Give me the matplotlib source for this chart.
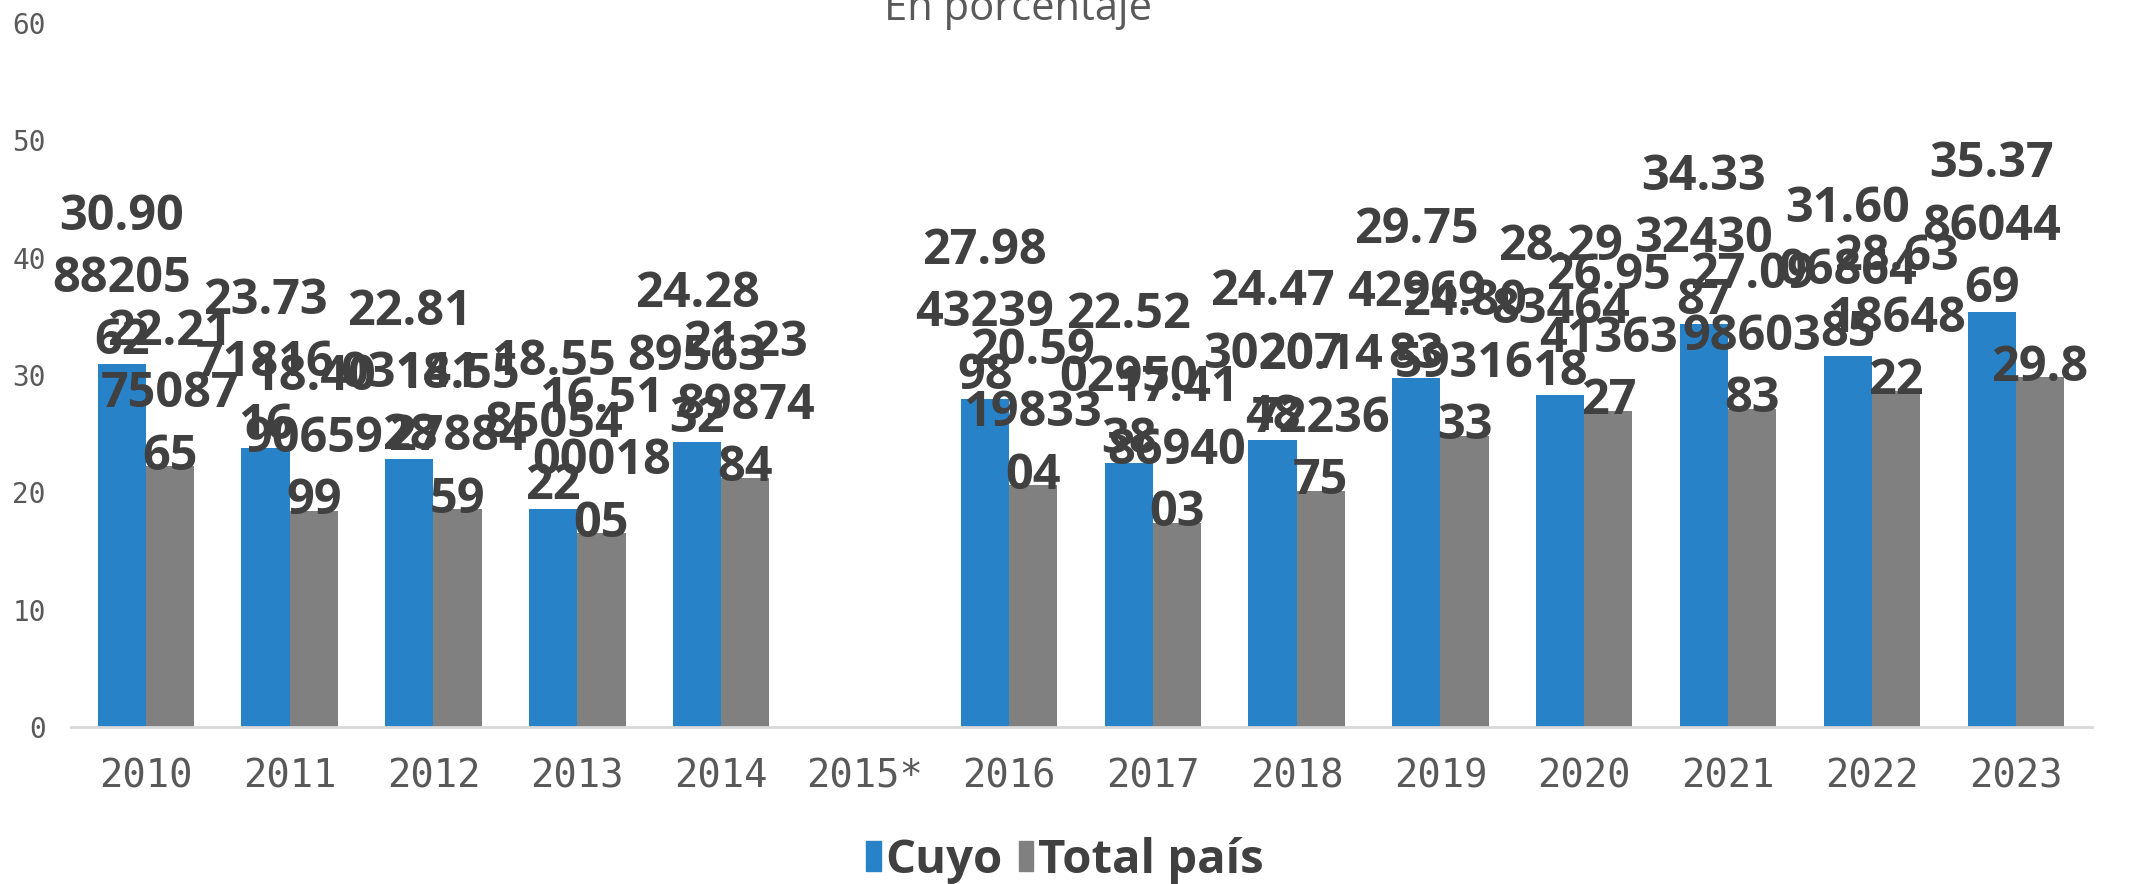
import numpy as np
import matplotlib
matplotlib.use("Agg")
import matplotlib.pyplot as plt
from matplotlib.patches import Patch

# Data
years = ["2010", "2011", "2012", "2013", "2014", "2015*", "2016",
         "2017", "2018", "2019", "2020", "2021", "2022", "2023"]
cuyo = [30.908820562, 23.737181616, 22.810314128, 18.558505422, 24.288956332,
        np.nan, 27.984323998, 22.520295038, 24.473020748, 29.754296983,
        28.298346418, 34.333243087, 31.600686485, 35.378604469]
total_pais = [22.217508765, 18.409065999, 18.552788459, 16.510001805, 21.238987484,
              np.nan, 20.591983304, 17.418694003, 20.147223675, 24.805931633,
              26.954136327, 27.099860383, 28.631864822, 29.8]

BLUE = "#2882C8"
GREY = "#808080"
TXT = "#404040"


# Split the raw number into chunks of 5 chars, like the wrapped labels
def wrap_label(v, n=5):
    s = repr(float(v))
    return "\n".join(s[i:i + n] for i in range(0, len(s), n))


fig = plt.figure(figsize=(21.3, 8.84), dpi=100)
ax = fig.add_axes([71 / 2130, 1 - 727 / 884, (2092 - 71) / 2130, (727 - 23) / 884])

x = np.arange(len(years))
w = 0.335
b1 = ax.bar(x - w / 2, cuyo, w, color=BLUE, label="Cuyo")
b2 = ax.bar(x + w / 2, total_pais, w, color=GREY, label="Total país")

# Data labels (bottom line sits on the bar top)
for bars, vals, dy in ((b1, cuyo, -1.5), (b2, total_pais, -11)):
    for rect, v in zip(bars, vals):
        if np.isnan(v):
            continue
        ax.annotate(wrap_label(v), (rect.get_x() + rect.get_width() / 2, v),
                    xytext=(0, dy), textcoords="offset points",
                    ha="center", va="bottom", fontsize=35, fontweight="bold",
                    family="Open Sans", color=TXT, linespacing=1.36)

ax.set_xlim(-0.52, len(years) - 1 + 0.53)
ax.set_ylim(0, 60)
ax.set_yticks(range(0, 61, 10))
ax.set_xticks(x, years)
ax.tick_params(axis="x", length=0, pad=22, labelsize=28, labelcolor="#595959")
ax.tick_params(axis="y", length=0, pad=18, labelsize=20, labelcolor="#595959")
for lab in ax.get_xticklabels() + ax.get_yticklabels():
    lab.set_family("DejaVu Sans Mono")

for s in ("top", "right", "left"):
    ax.spines[s].set_visible(False)
ax.spines["bottom"].set_color("#d9d9d9")
ax.spines["bottom"].set_linewidth(2)

fig.text(0.478, 0.977, "En porcentaje", ha="center", va="baseline",
         fontsize=30, color="#595959", family="Open Sans")

handles = [Patch(color=BLUE, label="Cuyo"), Patch(color=GREY, label="Total país")]
fig.legend(handles=handles, loc="center", bbox_to_anchor=(0.5, 0.027), ncol=2,
           frameon=False, handlelength=0.3, handleheight=0.6, handletextpad=0.1,
           columnspacing=0.35, prop={"family": "Open Sans", "weight": "bold", "size": 34},
           labelcolor=TXT)

fig.savefig("out.png", dpi=100)
